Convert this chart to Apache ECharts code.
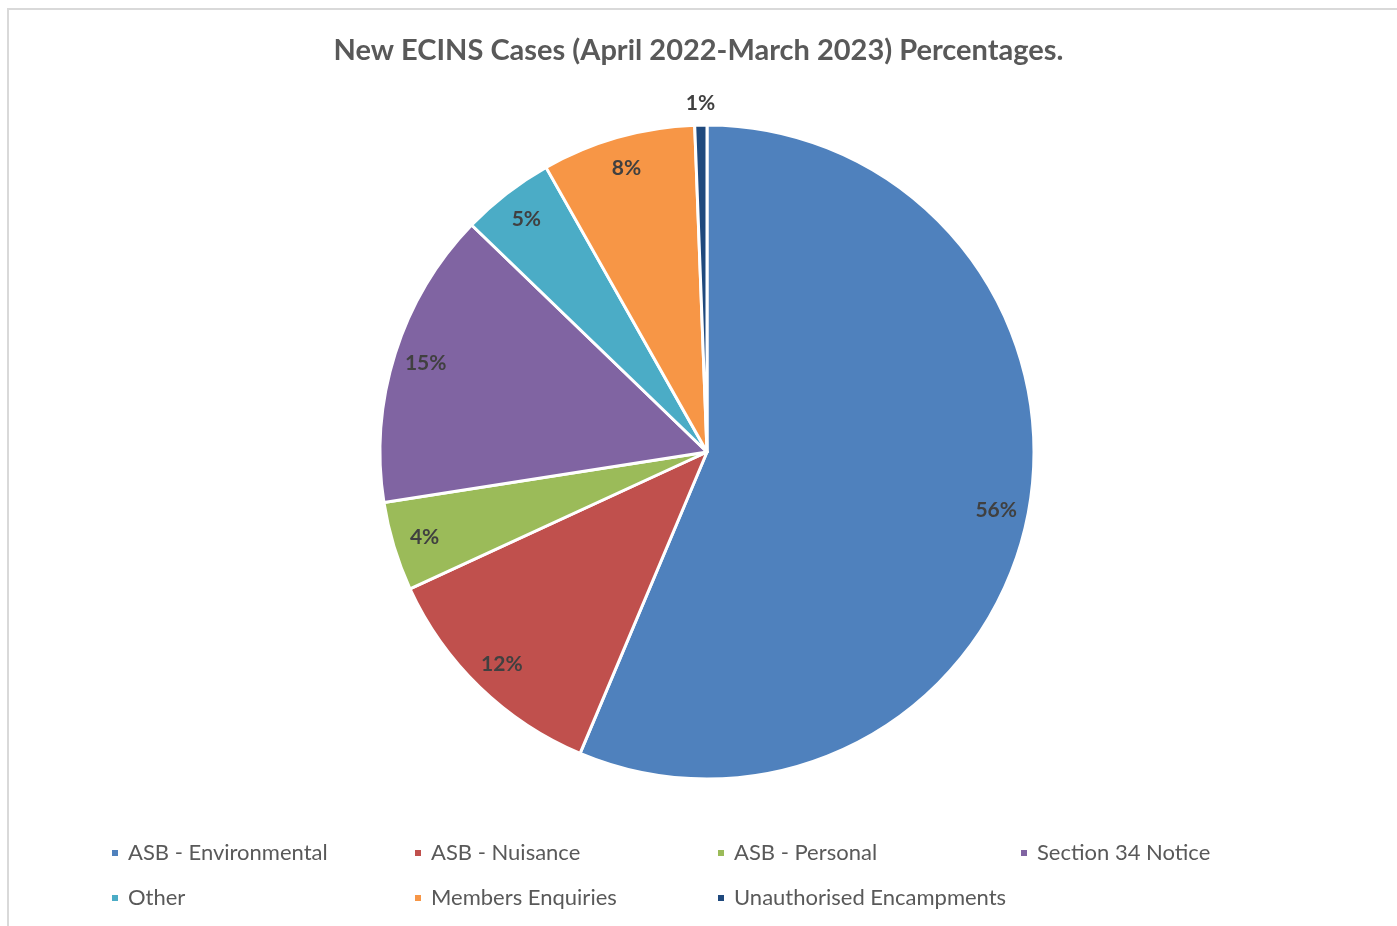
<!DOCTYPE html>
<html>
<head>
<meta charset="utf-8">
<title>New ECINS Cases (April 2022-March 2023) Percentages.</title>
<script src="https://cdn.jsdelivr.net/npm/echarts@6/dist/echarts.min.js"></script>
<style>
  html, body { margin: 0; padding: 0; background: #ffffff; }
  #chart { width: 1397px; height: 926px; }
</style>
</head>
<body>
<div id="chart"></div>
<script>
// Case categories and their share of new ECINS cases (per cent)
const categories = [
  'ASB - Environmental',
  'ASB - Nuisance',
  'ASB - Personal',
  'Section 34 Notice',
  'Other',
  'Members Enquiries',
  'Unauthorised Encampments'
];
const shares = [56.4, 11.8, 4.4, 14.7, 4.6, 7.6, 0.6];
const colours = ['#4F81BD', '#C0504D', '#9BBB59', '#8064A2', '#4BACC6', '#F79646', '#1F497D'];
const chartTitle = 'New ECINS Cases (April 2022-March 2023) Percentages.';

const total = shares.reduce((a, b) => a + b, 0);
const pieData = categories.map((name, i) => ({
  name: name,
  value: shares[i],
  itemStyle: { color: colours[i] }
}));
const pctLabel = p => Math.round(p.value / total * 100) + '%';

const FONT = 'Lato, "Open Sans", sans-serif';
const centre = [707, 452];

// Legend laid out as columns of a two-row grid
const legendColumns = [
  [categories[0], categories[4]],
  [categories[1], categories[5]],
  [categories[2], categories[6]],
  [categories[3]]
];
const legendLefts = [110, 413, 716, 1019];
const legends = legendColumns.map((col, i) => ({
  data: col,
  orient: 'vertical',
  left: legendLefts[i],
  top: 842,
  padding: 0,
  icon: 'rect',
  itemWidth: 8,
  itemHeight: 8,
  itemGap: 23,
  selectedMode: false,
  textStyle: { color: '#595959', fontSize: 22, fontFamily: FONT, padding: [0, 0, 0, 4] }
}));

const labelStyle = {
  show: true,
  position: 'inside',
  formatter: pctLabel,
  color: '#404040',
  fontSize: 21,
  fontWeight: 'bold',
  fontFamily: FONT
};

const chart = echarts.init(document.getElementById('chart'), null, { renderer: 'canvas' });
chart.setOption({
  backgroundColor: '#ffffff',
  animation: false,
  title: {
    text: chartTitle,
    left: 'center',
    top: 31,
    textStyle: { color: '#595959', fontSize: 29, fontWeight: 'bold', fontFamily: FONT }
  },
  legend: legends,
  graphic: [{
    type: 'rect',
    shape: { x: 8, y: 9, width: 1500, height: 1000 },
    style: { fill: 'none', stroke: '#D9D9D9', lineWidth: 2 },
    silent: true
  }],
  series: [
    {
      // slices
      type: 'pie',
      center: centre,
      radius: [0, 327],
      startAngle: 90,
      clockwise: true,
      avoidLabelOverlap: false,
      label: { show: false },
      labelLine: { show: false },
      itemStyle: { borderColor: '#ffffff', borderWidth: 3 },
      emphasis: { disabled: true },
      data: pieData
    },
    {
      // percentage labels sitting near the rim
      type: 'pie',
      center: centre,
      radius: [257, 327],
      startAngle: 90,
      clockwise: true,
      silent: true,
      avoidLabelOverlap: false,
      itemStyle: { color: 'transparent' },
      labelLine: { show: false },
      label: labelStyle,
      emphasis: { disabled: true },
      data: pieData.map((d, i) => ({
        name: d.name,
        value: d.value,
        label: { show: i !== 6 }
      }))
    },
    {
      // label for the narrow slice, just outside the pie
      type: 'pie',
      center: centre,
      radius: [328, 364],
      startAngle: 90,
      clockwise: true,
      silent: true,
      avoidLabelOverlap: false,
      itemStyle: { color: 'transparent' },
      labelLine: { show: false },
      label: labelStyle,
      emphasis: { disabled: true },
      data: pieData.map((d, i) => ({
        name: d.name,
        value: d.value,
        label: { show: i === 6 }
      }))
    }
  ]
});
</script>
</body>
</html>
